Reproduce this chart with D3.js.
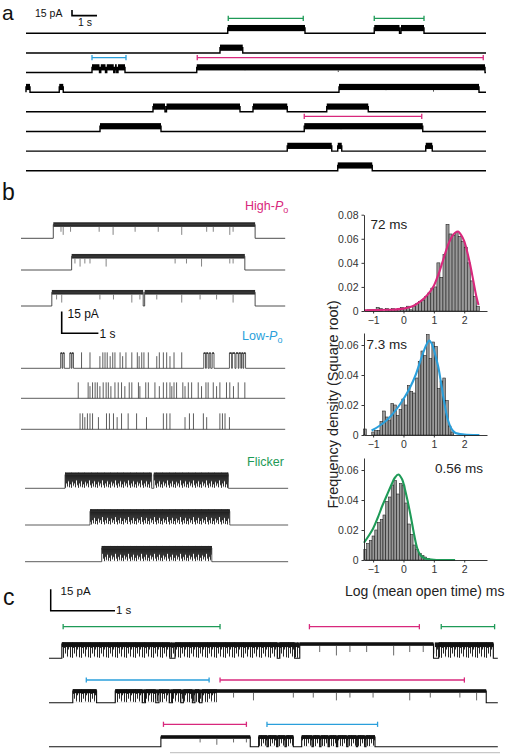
<!DOCTYPE html>
<html><head><meta charset="utf-8">
<script src="https://cdn.jsdelivr.net/npm/d3@7"></script>
<style>
body{margin:0;background:#fff}
svg{display:block}
text{font-family:"Liberation Sans",Arial,Helvetica,sans-serif}
</style>
</head><body>
<svg id="fig" width="507" height="754"></svg>
<script>
// ======================= DATA =======================
// Panel a: open intervals (s) per sweep row
const aOpen = [
  [[8.07,11.16],[13.93,14.94],[15.0,15.92]],
  [[7.76,8.67]],
  [[2.64,2.94],[2.99,3.18],[3.23,3.51],[3.56,3.63],[3.68,3.96],[6.83,18.36]],
  [[0,0.16],[1.33,1.49],[12.52,18.12]],
  [[5.08,5.56],[5.62,8.56],[9.08,10.45],[12.03,13.69]],
  [[2.96,5.4],[11.13,15.87]],
  [[10.45,12.23],[12.47,12.63],[15.99,16.25]],
  [[12.47,13.85]]
];
const aSpikes = [[],[],[8.76,12.49,18.03],[14.4,16.3],[],[12.6],[],[]];
const aBrackets = [[0,8.09,11.09,"flicker"],[0,13.93,15.92,"flicker"],[2,2.64,4.0,"low"],[2,6.85,18.29,"high"],[5,11.13,15.83,"high"]];
const aOpenAmp = 14; // pA

// Panel b
const highPoOpen = [ [[0.88,6.38]], [[1.38,6.10]], [[0.84,3.33],[3.37,6.38]] ];
const highPoSpikes = [
  [1.09,1.15,1.35,2.13,2.51,3.11,3.74,4.38,5.06,5.24,5.69,5.78],
  [1.47,1.61,1.74,1.88,2.32,4.2,4.51,4.92,5.69,5.78],
  [0.97,1.11,2.15,2.52,3.02,3.24,3.7,4.38,4.88,5.33,5.78]
];
const lowPoBursts = [
  [[1.08,1.12],[1.14,1.18],[1.33,1.37],[1.39,1.43],[4.98,5.03],[5.05,5.1],[5.13,5.17],[5.21,5.26],[5.68,5.74],[5.76,5.83],[5.86,5.92],[5.94,5.99],[6.01,6.05],[6.07,6.12]],
  [],
  []
];
const lowPoSpikes = [
  [1.65,1.88,2.15,2.23,2.29,2.35,2.43,2.5,2.56,2.7,2.77,2.86,3.02,3.17,3.22,3.29,3.35,3.47,3.7,3.77,3.88,3.97,4.06,4.17,4.38],
  [1.56,1.83,1.88,1.95,2.02,2.08,2.15,2.24,2.32,2.38,2.45,2.56,2.65,2.74,2.83,2.95,3.02,3.2,3.24,3.4,3.47,3.65,3.77,3.88,3.97,4.06,4.11,4.17,4.24,4.41,4.47,4.56,4.65,4.83,4.92,5.04,5.1,5.24,5.33,5.42,5.6,5.69,5.79,5.92,6.1],
  [1.61,1.68,1.74,1.81,1.88,1.95,2.11,2.33,2.41,2.52,2.62,2.74,2.92,3.15,3.42,3.88,3.97,4.06,4.47,4.59,4.7,4.97,5.06,5.42,5.49,5.56,5.68]
];
const flickerOpen = [ [[1.2,3.56],[3.62,5.65]], [[1.88,5.69]], [[2.2,5.2]] ];
const bOpenAmp = 9.5; // pA

// Panel c
const cOpen = [
  [[0.2,1.88],[1.96,3.55],[3.59,3.82],[3.9,5.98],[6.06,6.91]],
  [[0.37,0.74],[1.03,1.45],[1.5,1.66],[1.71,1.87],[1.92,2.05],[2.09,2.23],[2.27,2.34],[2.38,6.8]],
  [[1.74,3.13],[3.26,3.39],[3.41,3.54],[3.56,3.67],[3.69,3.8],[3.93,4.09],[4.11,4.21],[4.23,4.34],[4.36,4.47],[4.49,4.63],[4.65,4.78],[4.8,4.91],[4.93,5.07]]
];
const cFlicker = [ [[0.2,3.9],[6.0,6.91]], [[0.37,0.74],[1.03,2.61]], [[3.26,3.8],[3.93,5.07]] ];
const cSpikes = [
  [4.21,4.47,4.68,4.94,5.36,5.61,5.82],
  [2.87,3.18,3.8,4.11,4.47,4.68,5.04,5.61,5.93,6.39,6.65],
  [2.35,2.61,2.87,3.07]
];
const cAmp = [10, 8.2, 6.8]; // pA
const cBrackets = [[0,0.22,2.66,"flicker"],[0,4.05,5.76,"high"],[0,6.1,6.93,"flicker"],[1,0.58,2.49,"low"],[1,2.66,6.46,"high"],[2,1.78,3.07,"high"],[2,3.39,5.11,"low"]];

// Histograms (log10 mean open time, ms)
const h1Centers = [-1.25,-1.15,-1.05,-0.95,-0.85,-0.75,-0.65,-0.55,-0.45,-0.35,-0.25,-0.15,-0.05,0.05,0.15,0.25,0.35,0.45,0.55,0.65,0.75,0.85,0.95,1.05,1.15,1.25,1.35,1.45,1.55,1.65,1.75,1.85,1.95,2.05,2.15,2.25,2.35,2.45];
const h1Values  = [0.000,0.001,0.001,0.001,0.003,0.002,0.000,0.002,0.001,0.002,0.001,0.002,0.003,0.002,0.004,0.001,0.004,0.006,0.008,0.009,0.012,0.015,0.019,0.020,0.040,0.028,0.047,0.072,0.064,0.063,0.065,0.062,0.058,0.053,0.040,0.025,0.012,0.004];
const h1Fit = [[-1.3,0.0005],[-1.0,0.0008],[-0.5,0.001],[0,0.002],[0.3,0.004],[0.5,0.007],[0.7,0.011],[0.9,0.017],[1.0,0.021],[1.1,0.027],[1.2,0.034],[1.3,0.042],[1.4,0.050],[1.5,0.057],[1.6,0.062],[1.7,0.065],[1.8,0.066],[1.9,0.063],[2.0,0.058],[2.1,0.049],[2.2,0.038],[2.3,0.025],[2.4,0.012],[2.47,0.005]];

const h2Centers = [-1.27,-1.18,-1.09,-1.0,-0.91,-0.82,-0.73,-0.64,-0.55,-0.46,-0.37,-0.28,-0.19,-0.1,-0.01,0.08,0.17,0.26,0.35,0.44,0.53,0.62,0.71,0.8,0.89,0.98,1.07,1.16,1.25,1.34,1.43,1.52,1.61];
const h2Values  = [0.004,0.000,0.000,0.002,0.003,0.003,0.009,0.016,0.012,0.010,0.021,0.020,0.013,0.017,0.024,0.020,0.033,0.029,0.028,0.038,0.049,0.056,0.053,0.067,0.051,0.062,0.059,0.031,0.036,0.038,0.023,0.006,0.002];
const h2Fit = [[-1.05,0.003],[-0.8,0.006],[-0.6,0.009],[-0.4,0.013],[-0.2,0.018],[0,0.024],[0.2,0.031],[0.4,0.040],[0.6,0.052],[0.75,0.060],[0.85,0.063],[0.95,0.060],[1.05,0.053],[1.15,0.045],[1.25,0.033],[1.35,0.021],[1.45,0.011],[1.57,0.0045],[1.7,0.0015],[2.0,0.0003],[2.5,0]];

const h3Centers = [-1.26,-1.17,-1.08,-0.99,-0.9,-0.81,-0.72,-0.63,-0.54,-0.45,-0.36,-0.27,-0.18,-0.09,0,0.09,0.18,0.27,0.36,0.45,0.54,0.63,0.72,0.81];
const h3Values  = [0.007,0.011,0.013,0.016,0.020,0.025,0.027,0.030,0.039,0.042,0.050,0.053,0.044,0.051,0.050,0.038,0.024,0.017,0.010,0.007,0.0045,0.003,0.002,0.001];
const h3Fit = [[-1.3,0.0115],[-1.15,0.016],[-1.0,0.021],[-0.85,0.028],[-0.7,0.036],[-0.55,0.043],[-0.4,0.050],[-0.28,0.055],[-0.17,0.057],[-0.05,0.054],[0.05,0.047],[0.15,0.038],[0.25,0.028],[0.35,0.017],[0.45,0.008],[0.55,0.0035],[0.7,0.001],[1.0,0.0002],[1.7,0]];

const xTicks = [-1,0,1,2];
const yTicks1 = [0,0.02,0.04,0.06,0.08];
const yTicks23 = [0,0.02,0.04,0.06];
const fitLabels = ["72 ms","7.3 ms","0.56 ms"];

// ======================= STYLE / LAYOUT =======================
const COL = {high:"#d8287c", low:"#2a9fdb", flicker:"#1e9a57"};
const svg = d3.select("#fig");
const defs = svg.append("defs");
let patN = 0;
// flicker texture (style): relative depth of each hairline inside one pattern tile
const DENSE = {lens:[1.0,0.7,0.9,0.55,0.95,0.75,1.0,0.6,0.85,0.7,0.95,0.5,0.8], band:0.4, w:0.95, color:"#2a2a2a"};
const SPARSE = {lens:[1.0,0.35,0.7,0.25,0.9,0.45,0.3,0.95,0.2], band:0.3, w:0.9, color:"#141414"};

function makePattern(top, h, P){
  const id = "pt"+(patN++);
  const n = P.lens.length;
  const p = defs.append("pattern").attr("id",id).attr("patternUnits","userSpaceOnUse")
    .attr("x",0).attr("y",top).attr("width",n).attr("height",h);
  p.append("rect").attr("x",0).attr("y",0).attr("width",n).attr("height",P.band*h).attr("fill",P.color);
  P.lens.forEach((l,i)=>{
    p.append("line").attr("x1",i+0.5).attr("x2",i+0.5).attr("y1",0).attr("y2",l*h)
      .attr("stroke",P.color).attr("stroke-width",P.w);
  });
  return id;
}

function drawTrace(g, x, yc, ampPx, band, t0, t1, openIv, o){
  const yo = yc - ampPx;
  const top = yo - band/2;
  const iv = openIv.slice().sort((a,b)=>a[0]-b[0]);
  const p = d3.path();
  p.moveTo(x(t0), yc);
  iv.forEach(([s,e])=>{ p.lineTo(x(s),yc); p.lineTo(x(s),yo); p.lineTo(x(e),yo); p.lineTo(x(e),yc); });
  p.lineTo(x(t1), yc);
  if (o.flicker && o.flicker.length){
    const id = makePattern(top, yc-top, o.pattern);
    g.selectAll(null).data(o.flicker).enter().append("rect")
      .attr("x",d=>x(d[0])).attr("width",d=>x(d[1])-x(d[0]))
      .attr("y",top).attr("height",yc-top-0.5).attr("fill",`url(#${id})`);
  }
  g.selectAll(null).data(iv).enter().append("rect")
    .attr("x",d=>x(d[0])).attr("width",d=>Math.max(0.8,x(d[1])-x(d[0])))
    .attr("y",top).attr("height",band).attr("fill",o.bandFill||"#000");
  g.append("path").attr("d",p.toString()).attr("fill","none")
    .attr("stroke",o.stroke||"#000").attr("stroke-width",o.sw||1);
  if (o.spikes){
    g.selectAll(null).data(o.spikes).enter().append("line")
      .attr("x1",d=>x(d)).attr("x2",d=>x(d)).attr("y1",top+band)
      .attr("y2",(d,i)=> yo + ampPx*(o.depth||0.8)*(i%3===1?1:0.7))
      .attr("stroke",o.spikeColor||"#555").attr("stroke-width",0.8);
  }
  if (o.upSpikes){
    g.selectAll(null).data(o.upSpikes).enter().append("line")
      .attr("x1",d=>x(d)).attr("x2",d=>x(d)).attr("y1",yc)
      .attr("y2",(d,i)=> yc - ampPx*(i%4===2?0.75:1) - band/2)
      .attr("stroke",o.stroke||"#333").attr("stroke-width",0.8);
  }
}

function bracket(g, x1, x2, y, color){
  g.append("line").attr("x1",x1).attr("x2",x2).attr("y1",y).attr("y2",y).attr("stroke",color).attr("stroke-width",1.3);
  [x1,x2].forEach(xx=>g.append("line").attr("x1",xx).attr("x2",xx).attr("y1",y-2.6).attr("y2",y+2.6).attr("stroke",color).attr("stroke-width",1.3));
}

function label(g, x, y, txt, size, opts={}){
  return g.append("text").attr("x",x).attr("y",y).attr("font-size",size)
    .attr("fill",opts.fill||"#111").attr("text-anchor",opts.anchor||"start").text(txt);
}

function poLabel(g, x, y, pre, color){
  const t = g.append("text").attr("x",x).attr("y",y).attr("font-size",12.5).attr("fill",color);
  t.append("tspan").text(pre);
  t.append("tspan").attr("font-style","italic").text("P");
  t.append("tspan").attr("dy",3).attr("font-size",9).text("o");
}

// ======================= PANEL A =======================
const gA = svg.append("g");
const xA = d3.scaleLinear().domain([0,18.4]).range([26,486]);
const yAmpA = d3.scaleLinear().domain([0,15]).range([0,5.6]); // pA -> px
const aRowY = aOpen.map((_,i)=>33.3 + 19.63*i);
aOpen.forEach((iv,i)=>{
  drawTrace(gA, xA, aRowY[i], yAmpA(aOpenAmp), 6.2, 0, 18.4, iv,
    {stroke:"#000", sw:1.4, bandFill:"#000", spikes:aSpikes[i], spikeColor:"#222", depth:0.9});
});
aBrackets.forEach(([r,s,e,k])=>bracket(gA, xA(s), xA(e), aRowY[r]-15, COL[k]));
label(gA, 2, 19.5, "a", 21);
label(gA, 35, 17, "15 pA", 10.5);
gA.append("path").attr("d",`M72,${15.6-yAmpA(15)}V15.6H${72+xA(1)-xA(0)}`).attr("fill","none").attr("stroke","#000").attr("stroke-width",1.6);
label(gA, 78, 25.5, "1 s", 10.5);

// ======================= PANEL B =======================
const gB = svg.append("g");
const xB = d3.scaleLinear().domain([0,7.2]).range([21,285.2]);
const yAmpB = d3.scaleLinear().domain([0,15]).range([0,21.7]);
const highY = [238.3,270,306], lowY = [368.3,398.3,429.3], flickY = [488.3,525,561.7];
label(gB, 2, 200, "b", 23);
poLabel(gB, 245, 210, "High-", COL.high);
highPoOpen.forEach((iv,i)=>{
  drawTrace(gB, xB, highY[i], yAmpB(bOpenAmp), 4.6, 0, 7.2, iv,
    {stroke:"#3a3a3a", sw:0.9, bandFill:"#2b2b2b", spikes:highPoSpikes[i], spikeColor:"#666", depth:0.75});
});
gB.append("path").attr("d",`M61.7,${333.3-yAmpB(15)}V333.3H${61.7+xB(1)-xB(0)}`).attr("fill","none").attr("stroke","#000").attr("stroke-width",1.6);
label(gB, 67.5, 317.5, "15 pA", 12);
label(gB, 99.5, 337.5, "1 s", 12);
poLabel(gB, 242, 340, "Low-", COL.low);
lowY.forEach((yc,i)=>{
  drawTrace(gB, xB, yc, yAmpB(bOpenAmp+1), 1.5, 0, 7.2, lowPoBursts[i],
    {stroke:"#333", sw:0.8, bandFill:"#333", upSpikes:lowPoSpikes[i]});
});
label(gB, 247, 466, "Flicker", 12.5, {fill:COL.flicker});
flickY.forEach((yc,i)=>{
  drawTrace(gB, xB, yc, yAmpB(bOpenAmp), 4, 0.11, 7.28, flickerOpen[i],
    {stroke:"#333", sw:0.8, bandFill:"#222", flicker:flickerOpen[i], pattern:DENSE});
});

// ======================= HISTOGRAMS =======================
const xH = d3.scaleLinear().domain([-1.3,2.75]).range([364,487]);
const hists = [
  {c:h1Centers, v:h1Values, fit:h1Fit, color:COL.high, y:d3.scaleLinear().domain([0,0.08]).range([311,214.7]), ticks:yTicks1, lab:[fitLabels[0],370.5,228.5]},
  {c:h2Centers, v:h2Values, fit:h2Fit, color:COL.low, y:d3.scaleLinear().domain([0,0.068]).range([435,333]), ticks:yTicks23, lab:[fitLabels[1],366.5,348.5]},
  {c:h3Centers, v:h3Values, fit:h3Fit, color:COL.flicker, y:d3.scaleLinear().domain([0,0.068]).range([560,458]), ticks:yTicks23, lab:[fitLabels[2],435,472.5]}
];
hists.forEach(h=>{
  const g = svg.append("g");
  const bw = d3.min(d3.pairs(h.c), ([a,b])=>b-a);
  g.selectAll(null).data(h.c.map((c,i)=>[c,h.v[i]])).enter().append("rect")
    .attr("x",d=>xH(d[0]-bw/2)).attr("width",d=>xH(d[0]+bw/2)-xH(d[0]-bw/2))
    .attr("y",d=>h.y(d[1])).attr("height",d=>h.y(0)-h.y(d[1]))
    .attr("fill","#999").attr("stroke","#1a1a1a").attr("stroke-width",0.55);
  g.append("path").datum(h.fit)
    .attr("d", d3.line().x(d=>xH(d[0])).y(d=>h.y(d[1])).curve(d3.curveCatmullRom.alpha(0.5)))
    .attr("fill","none").attr("stroke",h.color).attr("stroke-width",2.1);
  const ax = g.append("g").attr("transform",`translate(0,${h.y(0)})`)
    .call(d3.axisBottom(xH).tickValues(xTicks).tickSize(2.5).tickSizeOuter(0).tickFormat(d3.format("d")));
  const ay = g.append("g").attr("transform",`translate(364,0)`)
    .call(d3.axisLeft(h.y).tickValues(h.ticks).tickSize(2.5).tickSizeOuter(0).tickFormat(d=>d===0?"0":d3.format(".2f")(d)));
  [ax,ay].forEach(a=>{
    a.selectAll("path,line").attr("stroke","#222").attr("stroke-width",0.9);
    a.selectAll("text").attr("font-size",10.5).attr("fill","#333").attr("font-family",'"Liberation Sans",Arial,sans-serif');
  });
  label(g, h.lab[1], h.lab[2], h.lab[0], 13.5, {fill:"#222"});
});
svg.append("text").attr("transform","translate(338,404.5) rotate(-90)").attr("text-anchor","middle")
  .attr("font-size",14.5).attr("fill","#222").text("Frequency density (Square root)");
label(svg, 345, 596, "Log (mean open time) ms", 14, {fill:"#222"});

// ======================= PANEL C =======================
const gC = svg.append("g");
const xC = d3.scaleLinear().domain([0,7]).range([49,499.1]);
const yAmpC = d3.scaleLinear().domain([0,15]).range([0,21.4]);
const cRowY = [658.3,702.7,746.7];
const cBracketY = [626.7,680,724.3];
label(gC, 3, 605, "c", 23);
gC.append("path").attr("d",`M50.7,${610.7-yAmpC(15)}V610.7H${50.7+xC(1)-xC(0)}`).attr("fill","none").attr("stroke","#000").attr("stroke-width",1.5);
label(gC, 60.5, 595, "15 pA", 11.5);
label(gC, 116, 614, "1 s", 11.5);
cOpen.forEach((iv,i)=>{
  drawTrace(gC, xC, cRowY[i], yAmpC(cAmp[i]), 3.6, 0, 6.98, iv,
    {stroke:"#111", sw:1.1, bandFill:"#111", flicker:cFlicker[i], pattern:SPARSE, spikes:cSpikes[i], spikeColor:"#444", depth:0.8});
});
cBrackets.forEach(([r,s,e,k])=>bracket(gC, xC(s), xC(e), cBracketY[r], COL[k]));
gC.append("line").attr("x1",170).attr("x2",500).attr("y1",752.7).attr("y2",752.7).attr("stroke","#c8c8c8").attr("stroke-width",1.2);
</script>
</body></html>
